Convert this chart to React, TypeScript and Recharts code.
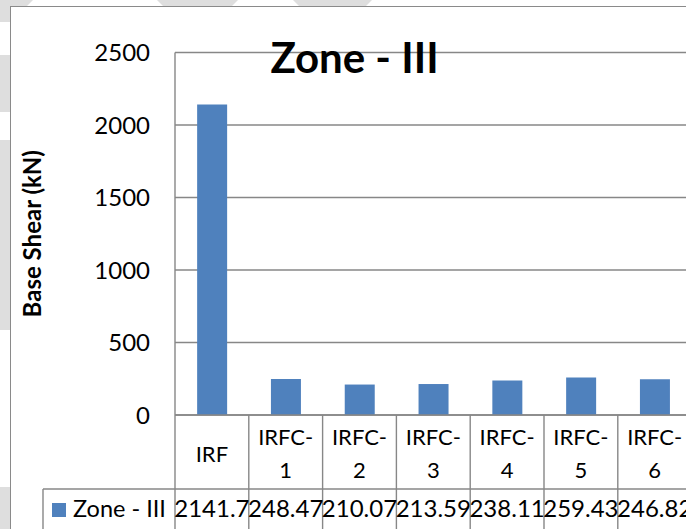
import React from 'react';
import { BarChart, Bar, XAxis, YAxis, CartesianGrid } from 'recharts';

// ---- data ----
const categories = ['IRF', 'IRFC-1', 'IRFC-2', 'IRFC-3', 'IRFC-4', 'IRFC-5', 'IRFC-6'];
const zoneIII = [2141.7, 248.47, 210.07, 213.59, 238.11, 259.43, 246.82];
const valueLabels = ['2141.7', '248.47', '210.07', '213.59', '238.11', '259.43', '246.82'];
const yTicks = [0, 500, 1000, 1500, 2000, 2500];
const seriesName = 'Zone - III';
const chartTitle = 'Zone - III';
const yAxisTitle = 'Base Shear (kN)';

const data = categories.map((name, i) => ({ name, value: zoneIII[i], label: valueLabels[i] }));

// ---- layout / style ----
const CHART_W = 700;
const CHART_H = 529;
const PLOT_LEFT = 175;
const PLOT_RIGHT = 691.6;
const CELL = (PLOT_RIGHT - PLOT_LEFT) / categories.length;
const ROW1 = 74; // category row height
const BAR_COLOR = '#4f81bd';
const LINE = '#878787';
const FONT = 'Lato, "Liberation Sans", sans-serif';

const TableTick = (props: any) => {
  const { x, y, payload } = props;
  const i = payload?.index ?? props.index;
  const half = CELL / 2;
  const name = String(payload.value);
  const m = name.match(/^(.*-)(\d+)$/);
  const lines = m ? [m[1], m[2]] : [name];
  const label = data[i]?.label ?? '';
  const ls = { stroke: LINE, strokeWidth: 1.4 };
  return (
    <g>
      {i === 0 && (
        <g>
          <line x1={x - half} y1={y} x2={x - half} y2={CHART_H} {...ls} />
          <line x1={43} y1={y + ROW1} x2={x - half} y2={y + ROW1} {...ls} />
          <line x1={43} y1={y + ROW1} x2={43} y2={CHART_H} {...ls} />
          <rect x={52} y={503} width={14} height={14} fill={BAR_COLOR} />
          <text x={73} y={y + 101.5} fontFamily={FONT} fontSize={23.5} fill="#000">
            {seriesName}
          </text>
        </g>
      )}
      <line x1={x + half} y1={y} x2={x + half} y2={CHART_H} {...ls} />
      <line x1={x - half} y1={y + ROW1} x2={x + half} y2={y + ROW1} {...ls} />
      {lines.length === 2 ? (
        <g>
          <text x={x} y={y + 30} textAnchor="middle" fontFamily={FONT} fontSize={22} fill="#000">
            {lines[0]}
          </text>
          <text x={x} y={y + 63} textAnchor="middle" fontFamily={FONT} fontSize={22} fill="#000">
            {lines[1]}
          </text>
        </g>
      ) : (
        <text x={x} y={y + 46.5} textAnchor="middle" fontFamily={FONT} fontSize={22} fill="#000">
          {lines[0]}
        </text>
      )}
      <text x={x} y={y + 101.5} textAnchor="middle" fontFamily={FONT} fontSize={24} fill="#000">
        {label}
      </text>
    </g>
  );
};

const stripeTop = [
  [0, 33],
  [157, 238],
  [293, 372],
];
const stripeLeft = [
  [0, 22],
  [55, 112],
  [140, 330],
  [487, 529],
];

export default function App() {
  return (
    <div
      style={{
        position: 'absolute',
        left: 0,
        top: 0,
        width: 686,
        height: 529,
        overflow: 'hidden',
        background: '#ffffff',
      }}
    >
      <svg width={686} height={529} style={{ position: 'absolute', left: 0, top: 0 }}>
        {stripeTop.map(([a, b], k) => (
          <polygon key={'t' + k} points={`${a},0 ${b},0 ${b - 7},7 ${a + 7},7`} fill="#dedede" />
        ))}
        {stripeLeft.map(([a, b], k) => (
          <rect key={'l' + k} x={0} y={a} width={11} height={b - a} fill="#dedede" />
        ))}
      </svg>
      <div
        style={{
          position: 'absolute',
          left: 10,
          top: 6,
          width: 760,
          height: 600,
          background: '#fff',
          borderLeft: '1.6px solid #8a8a8a',
          borderTop: '1.6px solid #8a8a8a',
        }}
      />
      <div style={{ position: 'absolute', left: 0, top: 0 }}>
        <BarChart
          width={CHART_W}
          height={CHART_H}
          data={data}
          margin={{ top: 52.5, right: CHART_W - PLOT_RIGHT, left: 0, bottom: 0 }}
          barCategoryGap="30%"
        >
          <CartesianGrid horizontal vertical={false} stroke={LINE} strokeWidth={1.4} />
          <XAxis
            dataKey="name"
            height={CHART_H - 415}
            axisLine={{ stroke: LINE, strokeWidth: 1.4 }}
            tickLine={false}
            tickSize={0}
            tickMargin={0}
            interval={0}
            tick={<TableTick />}
          />
          <YAxis
            width={PLOT_LEFT}
            domain={[0, 2500]}
            ticks={yTicks}
            interval={0}
            axisLine={{ stroke: LINE, strokeWidth: 1.4 }}
            tickLine={false}
            tickSize={0}
            tickMargin={25}
            tick={{ fontFamily: FONT, fontSize: 24, fill: '#000' }}
            label={{
              value: yAxisTitle,
              angle: -90,
              position: 'center',
              dx: -55,
              style: { fontFamily: FONT, fontSize: 24, fontWeight: 700, fill: '#000' },
            }}
          />
          <Bar dataKey="value" name={seriesName} fill={BAR_COLOR} isAnimationActive={false} />
          <text
            x={354.5}
            y={72.7}
            textAnchor="middle"
            fontFamily={FONT}
            fontSize={42}
            fontWeight={700}
            fill="#000"
          >
            {chartTitle}
          </text>
        </BarChart>
      </div>
    </div>
  );
}
